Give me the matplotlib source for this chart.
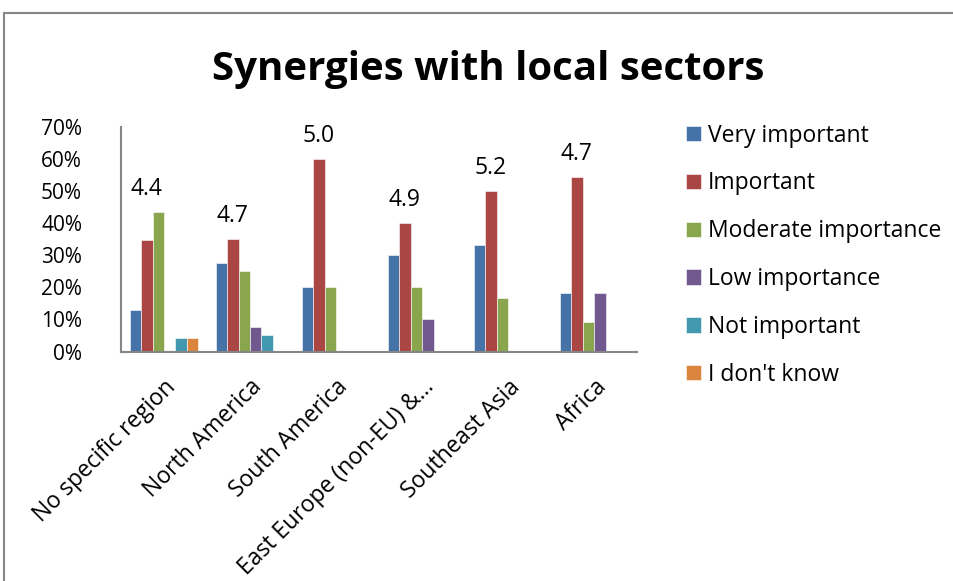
import numpy as np
import matplotlib
matplotlib.use("Agg")
from matplotlib import pyplot as plt
from matplotlib.patches import Rectangle
from matplotlib.ticker import PercentFormatter

# data
regions = ["No specific region", "North America", "South America",
           "East Europe (non-EU) &...", "Southeast Asia", "Africa"]
very_important = [13.0, 27.5, 20.0, 30.0, 33.3, 18.2]
important = [34.8, 35.0, 60.0, 40.0, 50.0, 54.5]
moderate = [43.5, 25.0, 20.0, 20.0, 16.7, 9.1]
low = [0.0, 7.5, 0.0, 10.0, 0.0, 18.2]
not_important = [4.3, 5.0, 0.0, 0.0, 0.0, 0.0]
dont_know = [4.3, 0.0, 0.0, 0.0, 0.0, 0.0]
mean_scores = ["4.4", "4.7", "5.0", "4.9", "5.2", "4.7"]

series_names = ["Very important", "Important", "Moderate importance",
                "Low importance", "Not important", "I don't know"]
colors = ["#4572A7", "#AA4643", "#89A54E", "#71588F", "#4198AF", "#DB843D"]

plt.rcParams["font.family"] = ["Open Sans", "DejaVu Sans"]

fig = plt.figure(figsize=(9.54, 5.81), dpi=100)
ax = fig.add_axes([0.1268, 0.395, 0.541, 0.386])

all_series = [very_important, important, moderate, low, not_important, dont_know]
x = np.arange(len(regions))
w = 1 / 7.5
for i, (vals, name, c) in enumerate(zip(all_series, series_names, colors)):
    ax.bar(x + (i - 2.5) * w, vals, w, color=c, label=name,
           edgecolor="white", linewidth=0.4)

# mean score labels above each group (over the "Important" bar)
for i, s in enumerate(mean_scores):
    top = max(v[i] for v in all_series)
    ax.text(x[i] - 1.5 * w, top + 7.3, s, ha="center", va="center", fontsize=16.5)

ax.set_xlim(-0.5, len(regions) - 0.5)
ax.set_ylim(0, 70)
ax.set_yticks(range(0, 71, 10))
ax.yaxis.set_major_formatter(PercentFormatter(decimals=0))
ax.set_xticks(x)
ax.set_xticklabels(regions, rotation=45, ha="right", rotation_mode="anchor")
ax.tick_params(axis="y", length=0, labelsize=15, pad=28)
ax.tick_params(axis="x", length=0, labelsize=16.5, pad=17)
for s in ["top", "right"]:
    ax.spines[s].set_visible(False)
for s in ["left", "bottom"]:
    ax.spines[s].set_color("#868686")
    ax.spines[s].set_linewidth(1.5)

fig.text(0.512, 0.88, "Synergies with local sectors", ha="center", va="center",
         fontsize=29, fontweight="bold")

fig.legend(loc="upper left", bbox_to_anchor=(0.709, 0.803), frameon=False,
           fontsize=16.5, handlelength=0.66, handleheight=0.66,
           handletextpad=0.3, labelspacing=1.04, borderaxespad=0)

# outer chart border
fig.patches.append(Rectangle((4 / 954, -0.1), 1.1, 1.1 - 13 / 581,
                             transform=fig.transFigure, fill=False,
                             edgecolor="#868686", linewidth=1.5))

fig.savefig("out.png", dpi=100)
